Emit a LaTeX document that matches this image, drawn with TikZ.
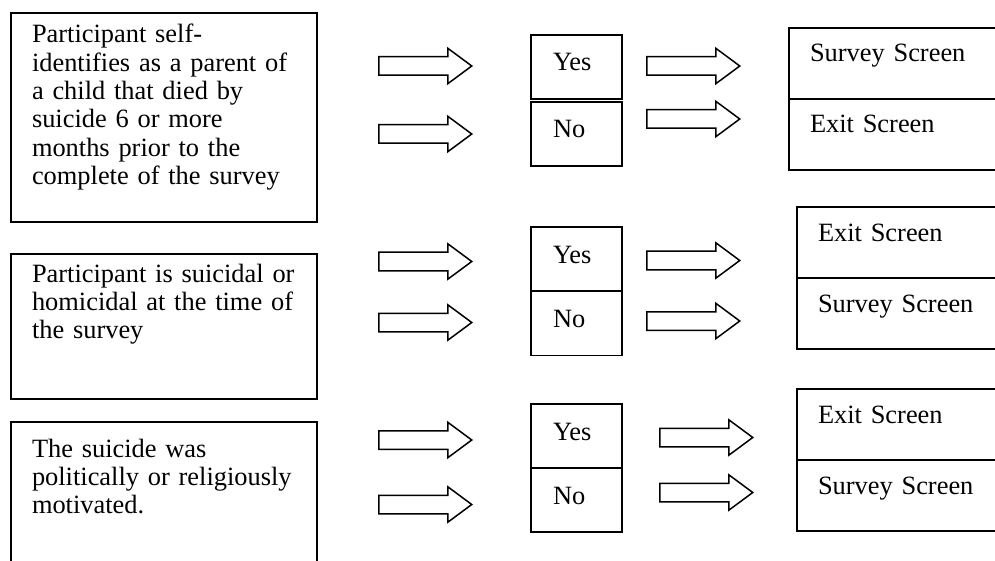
\documentclass[tikz,border=0pt]{standalone}
\usepackage{fontspec}
\setmainfont{Liberation Serif}
\usetikzlibrary{positioning,shapes.arrows}

\begin{document}
\begin{tikzpicture}[x=1pt,y=-1pt,
    font=\fontsize{26.4pt}{28.3pt}\selectfont,
    cond node/.style={rectangle,draw,line width=1.8pt,outer sep=0pt,
                      inner xsep=21pt,inner ysep=0pt,text width=264pt,
                      align=left,anchor=north west},
    answer node/.style={rectangle,draw,line width=1.8pt,outer sep=0pt,
                      inner xsep=22pt,inner ysep=0pt,text width=47pt,
                      text height=36pt,text depth=28pt,align=left},
    screen node/.style={rectangle,draw,line width=1.8pt,outer sep=0pt,
                      inner xsep=21pt,inner ysep=0pt,text width=230pt,
                      text height=34pt,text depth=37pt,align=left},
    block arrow/.style={single arrow,draw,line width=1.5pt,
                      inner xsep=0pt,inner ysep=8.5pt,
                      single arrow head extend=8.5pt,
                      single arrow tip angle=73,
                      minimum height=93pt,anchor=tail}
    ]
  \useasboundingbox (0,0) rectangle (995,561);
  \clip (0,0) rectangle (995,561);

  % questions
  \node[cond node,text height=30pt,text depth=179pt] (q1) at (11,13)
    {Participant self-\\identifies as a parent of\\a child that died by\\suicide 6 or more\\months prior to the\\complete of the survey};
  \node[cond node,text height=28pt,text depth=117pt] (q2) at (11,254)
    {Participant is suicidal or\\homicidal at the time of\\the survey};
  \node[cond node,text height=35pt,text depth=170pt] (q3) at (11,422)
    {The suicide was\\politically or religiously\\motivated.};

  % answers
  \node[answer node,anchor=north west] (y1) at (531,35) {Yes};
  \node[answer node,below=3pt of y1] (n1) {No};
  \node[answer node,anchor=north west] (y2) at (531,227) {Yes};
  \node[answer node,below=0.5pt of y2] (n2) {No};
  \node[answer node,anchor=north west] (y3) at (531,404) {Yes};
  \node[answer node,below=0pt of y3] (n3) {No};

  % screens
  \node[screen node,anchor=north west] (s1) at (789,28) {Survey Screen};
  \node[screen node,below=0pt of s1] (e1) {Exit Screen};
  \node[screen node,anchor=north west] (e2) at (797,207) {Exit Screen};
  \node[screen node,below=0pt of e2] (s2) {Survey Screen};
  \node[screen node,anchor=north west] (e3) at (797,389) {Exit Screen};
  \node[screen node,below=0pt of e3] (s3) {Survey Screen};

  % arrows
  \node[block arrow] (qa1) at (378,66) {};
  \node[block arrow] (qb1) at (378,134) {};
  \node[block arrow] (ya1) at (646,66) {};
  \node[block arrow] (nb1) at (646,119) {};
  \node[block arrow] (qa2) at (378,261.5) {};
  \node[block arrow] (qb2) at (378,322.5) {};
  \node[block arrow] (ya2) at (646,260.5) {};
  \node[block arrow] (nb2) at (646,321) {};
  \node[block arrow] (qa3) at (378,440) {};
  \node[block arrow] (qb3) at (378,504.5) {};
  \node[block arrow] (ya3) at (659,437.5) {};
  \node[block arrow] (nb3) at (659,492.5) {};
\end{tikzpicture}
\end{document}
